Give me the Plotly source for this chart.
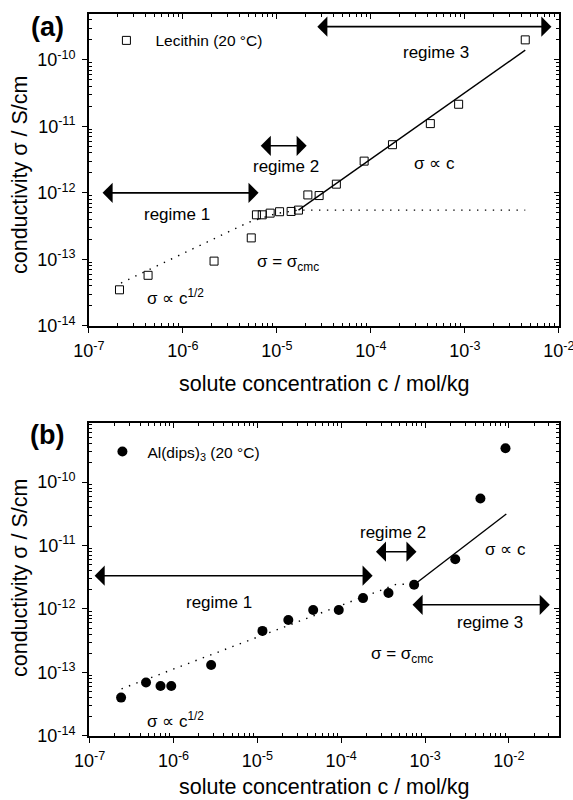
import numpy as np
import plotly.graph_objects as go

FONT = "Liberation Sans, Arial, sans-serif"

# ---- Lecithin (20 °C): concentration (mol/kg) and conductivity (S/cm)
lec_c = [2.12e-7, 4.27e-7, 2.15e-6, 5.35e-6, 6.07e-6, 7.0e-6, 8.5e-6, 1.07e-5,
         1.42e-5, 1.7e-5, 2.14e-5, 2.82e-5, 4.3e-5, 8.5e-5, 1.7e-4, 4.3e-4,
         8.6e-4, 4.4e-3]
lec_sigma = [3.48e-14, 5.75e-14, 9.4e-14, 2.1e-13, 4.67e-13, 4.67e-13, 4.95e-13,
             5.2e-13, 5.25e-13, 5.5e-13, 9.3e-13, 9.1e-13, 1.35e-12, 3.0e-12,
             5.3e-12, 1.1e-11, 2.15e-11, 2.0e-10]
# fitted curves for lecithin
lec_dot_c = [2.2e-7, 5.0e-6, 1.0e-5, 1.7e-5, 4.4e-3]
lec_dot_s = [4.4e-14, 3.6e-13, 4.9e-13, 5.5e-13, 5.5e-13]
lec_lin_c = [1.7e-5, 4.4e-3]
lec_lin_s = [5.5e-13, 1.4e-10]

# ---- Al(dips)3 (20 °C)
al_c = [2.37e-7, 4.7e-7, 7.0e-7, 9.4e-7, 2.81e-6, 1.15e-5, 2.34e-5, 4.63e-5,
        9.35e-5, 1.82e-4, 3.66e-4, 7.4e-4, 2.29e-3, 4.57e-3, 9.1e-3]
al_sigma = [4.0e-14, 6.9e-14, 6.1e-14, 6.1e-14, 1.31e-13, 4.5e-13, 6.7e-13,
            9.6e-13, 9.6e-13, 1.48e-12, 1.78e-12, 2.4e-12, 6.07e-12, 5.5e-11,
            3.4e-10]
al_dot_c = [2.4e-7, 4.57e-4, 7.4e-4]
al_dot_s = [5.5e-14, 2.45e-12, 2.45e-12]
al_lin_c = [7.4e-4, 9.3e-3]
al_lin_s = [2.4e-12, 3.13e-11]

# tick values and labels
x_tick_vals = [1e-7, 1e-6, 1e-5, 1e-4, 1e-3, 1e-2]
x_tick_text = ["10<sup>-7</sup>", "10<sup>-6</sup>", "10<sup>-5</sup>",
               "10<sup>-4</sup>", "10<sup>-3</sup>", "10<sup>-2</sup>"]
y_tick_vals = [1e-14, 1e-13, 1e-12, 1e-11, 1e-10]
y_tick_text = ["10<sup>-14</sup>", "10<sup>-13</sup>", "10<sup>-12</sup>",
               "10<sup>-11</sup>", "10<sup>-10</sup>"]

# regime arrows: (c_start, c_end, sigma)
arrows_a = [(2.6e-5, 8.35e-3, 3.16e-10), (6.5e-6, 2.08e-5, 5.1e-12),
            (1.35e-7, 6.4e-6, 1.0e-12)]
arrows_b = [(1.1e-7, 2.37e-4, 3.34e-12), (2.49e-4, 7.9e-4, 7.98e-12),
            (6.8e-4, 3.07e-2, 1.16e-12)]

# text labels: (text, c, sigma)
labels_a = [("regime 3", 5.0e-4, 1.27e-10), ("regime 2", 1.25e-5, 2.45e-12),
            ("σ ∝ c", 4.8e-4, 2.8e-12), ("regime 1", 8.7e-7, 4.8e-13),
            ("σ = σ<sub>cmc</sub>", 1.33e-5, 8.9e-14),
            ("σ ∝ c<sup>1/2</sup>", 8.3e-7, 2.75e-14)]
labels_b = [("regime 2", 4.1e-4, 1.58e-11), ("σ ∝ c", 9.2e-3, 8.5e-12),
            ("regime 1", 3.5e-6, 1.24e-12), ("regime 3", 5.9e-3, 6.2e-13),
            ("σ = σ<sub>cmc</sub>", 5.3e-4, 1.89e-13),
            ("σ ∝ c<sup>1/2</sup>", 1.06e-6, 1.78e-14)]

XDOM = [0.155, 0.976]
YDOM_A = [0.5925, 0.9825]
YDOM_B = [0.08, 0.47125]
XR_A, YR_A = [-7.0, -1.995], [-14.003, -9.31]
XR_B, YR_B = [-7.01, -1.40], [-14.003, -9.07]

# minor tick positions 2..9 in every decade
minor_vals = [m * 10.0 ** k for k in range(-15, 0) for m in range(2, 10)]

fig = go.Figure()

fig.add_trace(go.Scatter(x=lec_dot_c, y=lec_dot_s, mode="lines",
                         line=dict(color="black", width=1.4, dash="1.4px,6.5px"),
                         showlegend=False, xaxis="x", yaxis="y"))
fig.add_trace(go.Scatter(x=lec_lin_c, y=lec_lin_s, mode="lines",
                         line=dict(color="black", width=1.4),
                         showlegend=False, xaxis="x", yaxis="y"))
fig.add_trace(go.Scatter(x=lec_c, y=lec_sigma, mode="markers",
                         name="Lecithin (20 °C)", legend="legend",
                         marker=dict(symbol="square-open", size=8, color="black",
                                     line=dict(width=1, color="black")),
                         xaxis="x", yaxis="y"))

fig.add_trace(go.Scatter(x=al_dot_c, y=al_dot_s, mode="lines",
                         line=dict(color="black", width=1.4, dash="1.4px,6.5px"),
                         showlegend=False, xaxis="x2", yaxis="y2"))
fig.add_trace(go.Scatter(x=al_lin_c, y=al_lin_s, mode="lines",
                         line=dict(color="black", width=1.4),
                         showlegend=False, xaxis="x2", yaxis="y2"))
fig.add_trace(go.Scatter(x=al_c, y=al_sigma, mode="markers",
                         name="Al(dips)<sub>3</sub> (20 °C)", legend="legend2",
                         marker=dict(symbol="circle", size=10, color="black"),
                         xaxis="x2", yaxis="y2"))

# empty traces so the top/right mirror axes are drawn
for xa, ya in (("x3", "y3"), ("x4", "y4")):
    fig.add_trace(go.Scatter(x=[], y=[], showlegend=False, xaxis=xa, yaxis=ya))

minor_in = dict(ticks="inside", ticklen=3, tickwidth=1, tickcolor="black",
                tickmode="array", tickvals=minor_vals, showgrid=False)
base = dict(type="log", showgrid=False, zeroline=False, showline=True,
            automargin=False, linecolor="black", linewidth=1.5,
            tickmode="array", ticklabeloverflow="allow",
            tickfont=dict(family=FONT, size=18, color="black"))
xt = dict(tickvals=x_tick_vals, ticktext=x_tick_text)
yt = dict(tickvals=y_tick_vals, ticktext=y_tick_text)
main = dict(base, ticks="outside", ticklen=5, tickwidth=1.2, tickcolor="black",
            minor=minor_in)
main_x = dict(main, ticklabelstandoff=3, **xt)
main_y = dict(main, ticklabelstandoff=3, **yt)
mirror = dict(base, ticks="inside", ticklen=5, tickwidth=1.2, tickcolor="black",
              showticklabels=False, minor=minor_in)
mirror_x = dict(mirror, **xt)
mirror_y = dict(mirror, **yt)

fig.update_layout(
    width=573, height=800, margin=dict(l=0, r=0, t=0, b=0),
    paper_bgcolor="white", plot_bgcolor="white",
    font=dict(family=FONT, color="black"),
    xaxis=dict(main_x, domain=XDOM, range=XR_A, anchor="y"),
    yaxis=dict(main_y, domain=YDOM_A, range=YR_A, anchor="x"),
    xaxis2=dict(main_x, domain=XDOM, range=XR_B, anchor="y2"),
    yaxis2=dict(main_y, domain=YDOM_B, range=YR_B, anchor="x2"),
    xaxis3=dict(mirror_x, range=XR_A, overlaying="x", side="top", anchor="y3"),
    yaxis3=dict(mirror_y, range=YR_A, overlaying="y", side="right", anchor="x3"),
    xaxis4=dict(mirror_x, range=XR_B, overlaying="x2", side="top", anchor="y4"),
    yaxis4=dict(mirror_y, range=YR_B, overlaying="y2", side="right", anchor="x4"),
    legend=dict(x=0.17, y=0.949, xanchor="left", yanchor="middle",
                bgcolor="rgba(0,0,0,0)", font=dict(family=FONT, size=15.5),
                itemwidth=48),
    legend2=dict(x=0.17, y=0.435, xanchor="left", yanchor="middle",
                 bgcolor="rgba(0,0,0,0)", font=dict(family=FONT, size=15.5),
                 itemwidth=40),
)

ann = []
for arrows, xr, yr in ((arrows_a, "x", "y"), (arrows_b, "x2", "y2")):
    for c0, c1, s in arrows:
        ann.append(dict(x=np.log10(c1), y=np.log10(s), ax=np.log10(c0), ay=np.log10(s),
                        xref=xr, yref=yr, axref=xr, ayref=yr, text="",
                        showarrow=True, arrowside="end+start",
                        arrowhead=1, arrowsize=2.1, startarrowhead=1,
                        startarrowsize=2.1, arrowwidth=1.6, arrowcolor="black"))
for labels, xr, yr in ((labels_a, "x", "y"), (labels_b, "x2", "y2")):
    for t, c, s in labels:
        ann.append(dict(x=np.log10(c), y=np.log10(s), xref=xr, yref=yr, text=t,
                        xanchor="center", yanchor="middle",
                        showarrow=False, font=dict(family=FONT, size=17)))

# panel letters and axis titles
common = dict(xref="paper", yref="paper", showarrow=False,
              xanchor="center", yanchor="middle")
ann += [
    dict(common, x=47 / 573, y=1 - 27 / 800, text="<b>(a)</b>",
         font=dict(family=FONT, size=27)),
    dict(common, x=47 / 573, y=1 - 435 / 800, text="<b>(b)</b>",
         font=dict(family=FONT, size=27)),
    dict(common, x=20 / 573, y=1 - 175 / 800, text="conductivity σ / S/cm",
         textangle=-90, font=dict(family=FONT, size=21.5)),
    dict(common, x=20 / 573, y=1 - 578 / 800, text="conductivity σ / S/cm",
         textangle=-90, font=dict(family=FONT, size=21.5)),
    dict(common, x=sum(XDOM) / 2, y=1 - 384 / 800,
         text="solute concentration c / mol/kg", font=dict(family=FONT, size=21.5)),
    dict(common, x=sum(XDOM) / 2, y=1 - 787 / 800,
         text="solute concentration c / mol/kg", font=dict(family=FONT, size=21.5)),
]
fig.update_layout(annotations=ann)

fig.write_html("out.html")
